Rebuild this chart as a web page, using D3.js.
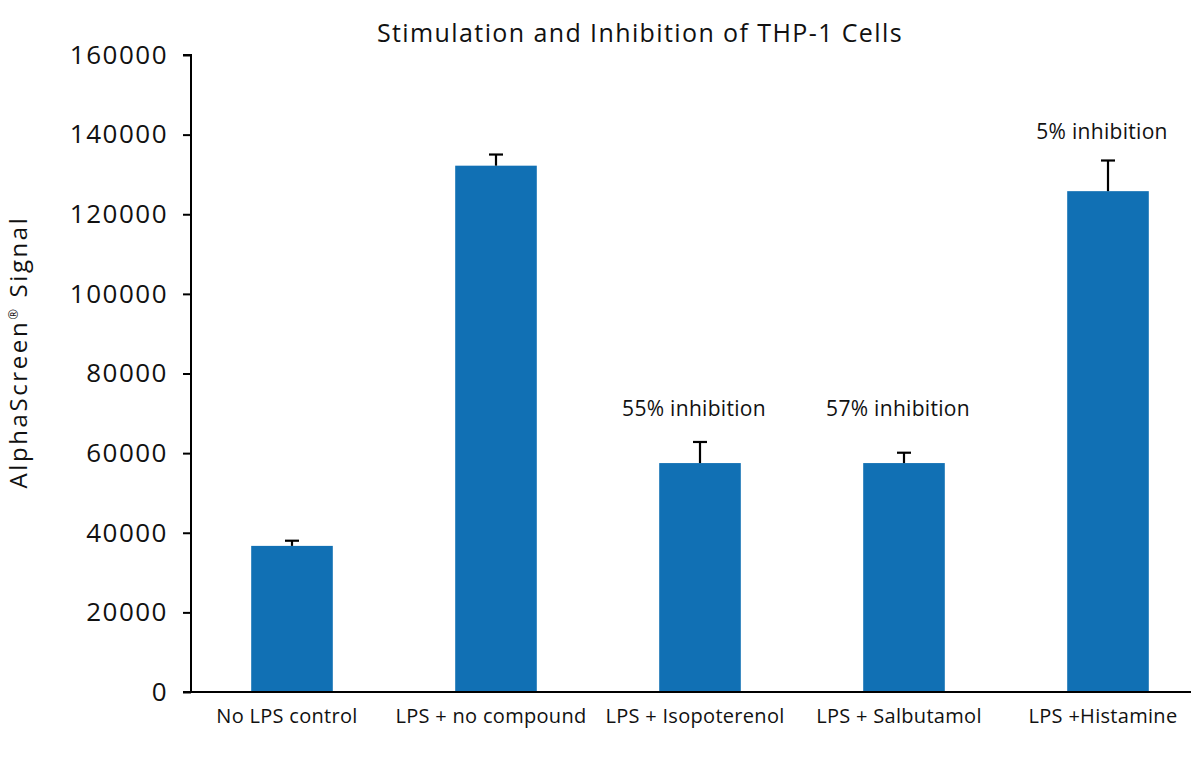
<!DOCTYPE html>
<html>
<head>
<meta charset="utf-8">
<script src="https://cdn.jsdelivr.net/npm/d3@7"></script>
<style>
  body { margin: 0; background: #fff; }
  text { font-family: "Open Sans", "Noto Sans", sans-serif; fill: #111; }
</style>
</head>
<body>
<svg width="1200" height="757"></svg>
<script>
// chart values
var categories = ["No LPS control", "LPS + no compound", "LPS + Isopoterenol", "LPS + Salbutamol", "LPS +Histamine"];
var signal = [36700, 132200, 57500, 57500, 125800];
var errors = [1300, 2800, 5300, 2600, 7700];
var notes = ["", "", "55% inhibition", "57% inhibition", "5% inhibition"];
var noteLevel = [0, 0, 69400, 69400, 139000];
var yTicks = [0, 20000, 40000, 60000, 80000, 100000, 120000, 140000, 160000];

var svg = d3.select("svg");
var barColor = "#1170b4";

var y = d3.scaleLinear()
  .domain([0, 160000])
  .range([692, 55]);

var x = d3.scaleBand()
  .domain(categories)
  .range([190, 1210])
  .paddingInner(0.6)
  .paddingOuter(0.3);

// title
svg.append("text")
  .attr("x", 640)
  .attr("y", 42)
  .attr("text-anchor", "middle")
  .style("font-size", "25px")
  .style("letter-spacing", "1.4px")
  .text("Stimulation and Inhibition of THP-1 Cells");

// y axis
var yAxis = svg.append("g")
  .attr("transform", "translate(191,0)")
  .call(d3.axisLeft(y).tickValues(yTicks).tickSize(8).tickPadding(15).tickFormat(d3.format("d")));
yAxis.selectAll("text").style("font-size", "26px").style("letter-spacing", "1.5px");
yAxis.selectAll("line, path").attr("stroke", "#000").attr("stroke-width", 2);
yAxis.select(".domain").attr("d", "M0," + y(0) + "V" + y(160000) + "H-8");

// y label
svg.append("text")
  .attr("transform", "translate(27,352) rotate(-90)")
  .attr("text-anchor", "middle")
  .style("font-size", "24px")
  .style("letter-spacing", "2.6px")
  .call(function(t) {
    t.append("tspan").text("AlphaScreen");
    t.append("tspan").attr("dy", -9).style("font-size", "13px").text("®");
    t.append("tspan").attr("dy", 9).text(" Signal");
  });

// bars
svg.append("g").selectAll("rect")
  .data(categories)
  .enter().append("rect")
  .attr("x", function(d) { return x(d); })
  .attr("width", x.bandwidth())
  .attr("y", function(d, i) { return y(signal[i]); })
  .attr("height", function(d, i) { return y(0) - y(signal[i]); })
  .attr("fill", barColor);

// error bars (upper only)
var err = svg.append("g").selectAll("g")
  .data(categories)
  .enter().append("g")
  .attr("stroke", "#000")
  .attr("stroke-width", 2.2);
err.append("line")
  .attr("x1", function(d) { return x(d) + x.bandwidth() / 2; })
  .attr("x2", function(d) { return x(d) + x.bandwidth() / 2; })
  .attr("y1", function(d, i) { return y(signal[i]); })
  .attr("y2", function(d, i) { return y(signal[i] + errors[i]); });
err.append("line")
  .attr("x1", function(d) { return x(d) + x.bandwidth() / 2 - 7; })
  .attr("x2", function(d) { return x(d) + x.bandwidth() / 2 + 7; })
  .attr("y1", function(d, i) { return y(signal[i] + errors[i]); })
  .attr("y2", function(d, i) { return y(signal[i] + errors[i]); });

// inhibition notes
svg.append("g").selectAll("text")
  .data(categories)
  .enter().append("text")
  .attr("x", function(d) { return x(d) + x.bandwidth() / 2 - 6; })
  .attr("y", function(d, i) { return y(noteLevel[i]); })
  .attr("text-anchor", "middle")
  .style("font-size", "21px")
  .style("letter-spacing", "0.3px")
  .text(function(d, i) { return notes[i]; });

// x axis
var xAxis = svg.append("g")
  .attr("transform", "translate(0,692)")
  .call(d3.axisBottom(x).tickSize(0).tickPadding(17));
xAxis.select(".domain").remove();
xAxis.selectAll("text").style("font-size", "20px").style("letter-spacing", "0.3px").attr("dx", -5);
svg.append("line")
  .attr("x1", 183).attr("x2", 1191)
  .attr("y1", y(0)).attr("y2", y(0))
  .attr("stroke", "#000").attr("stroke-width", 2);
</script>
</body>
</html>
